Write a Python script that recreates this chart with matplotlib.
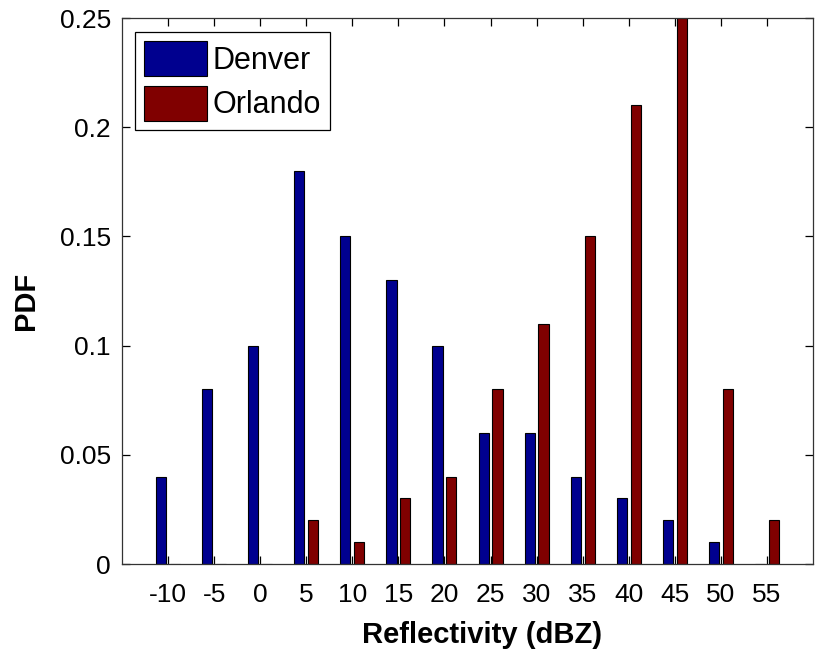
import matplotlib
matplotlib.use("Agg")
import matplotlib.pyplot as plt
import numpy as np

plt.rcParams['font.family'] = ['Liberation Sans', 'DejaVu Sans']

categories = [-10, -5, 0, 5, 10, 15, 20, 25, 30, 35, 40, 45, 50, 55]
denver = [0.04, 0.08, 0.10, 0.18, 0.15, 0.13, 0.10, 0.06, 0.06, 0.04, 0.03, 0.02, 0.01, 0.0]
orlando = [0.0, 0.0, 0.0, 0.02, 0.01, 0.03, 0.04, 0.08, 0.11, 0.15, 0.21, 0.25, 0.08, 0.02]
yticks = [0, 0.05, 0.1, 0.15, 0.2, 0.25]
ytick_labels = ['0', '0.05', '0.1', '0.15', '0.2', '0.25']

W, H = 818, 654
fig = plt.figure(figsize=(W / 100, H / 100), dpi=100)
L, R, T, B = 122, 813, 18, 564
ax = fig.add_axes([L / W, 1 - B / H, (R - L) / W, (B - T) / H])

x = np.arange(len(categories))
w = 0.22
off = 0.15
ax.bar(x - off, denver, width=w, color='#00008F', edgecolor='black', linewidth=0.8, label='Denver', zorder=2)
ax.bar(x + off, orlando, width=w, color='#800000', edgecolor='black', linewidth=0.8, label='Orlando', zorder=2)

ax.set_xlim(-1, 14)
ax.set_ylim(0, 0.25)
ax.set_xticks(x)
ax.set_xticklabels([str(c) for c in categories], fontsize=19)
ax.set_yticks(yticks)
ax.set_yticklabels(ytick_labels, fontsize=19)
ax.tick_params(direction='in', length=6, width=0.9, top=True, right=True, zorder=1)
ax.tick_params(axis='x', pad=14)
ax.tick_params(axis='y', pad=8)
for s in ax.spines.values():
    s.set_linewidth(0.9)
    s.set_color('#333333')
    s.set_zorder(3)

fig.text(482 / W, 1 - 643 / H, 'Reflectivity (dBZ)', fontsize=21, fontweight='bold',
         ha='center', va='baseline')
fig.text(26 / W, 1 - 301 / H, 'PDF', fontsize=21, fontweight='bold',
         ha='center', va='center', rotation=90)

leg = ax.legend(loc='upper left', fontsize=22, handlelength=2.05, handleheight=1.4,
                handletextpad=0.2, borderpad=0.3, labelspacing=0.3, borderaxespad=0,
                fancybox=False, framealpha=1, edgecolor='black',
                bbox_to_anchor=((135 - L) / (R - L), (B - 32) / (B - T)))
leg.get_frame().set_linewidth(0.9)

fig.savefig('out.png', dpi=100)
